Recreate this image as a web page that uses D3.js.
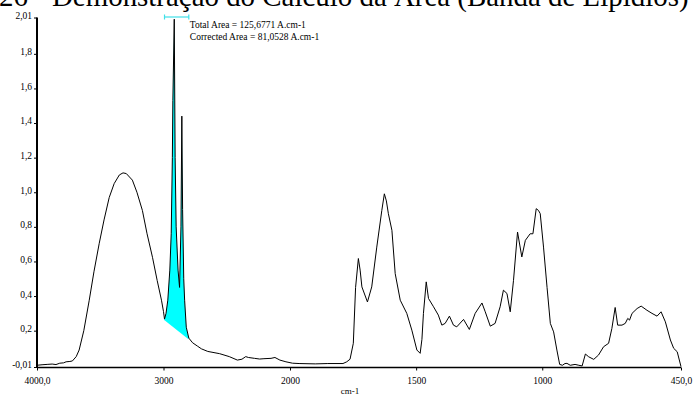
<!DOCTYPE html>
<html><head><meta charset="utf-8">
<script src="https://cdn.jsdelivr.net/npm/d3@7"></script>
<style>
html,body{margin:0;padding:0;background:#fff;overflow:hidden;}
svg{display:block;}
</style></head>
<body>
<svg id="chart" width="693" height="396"></svg>
<script>
// ---- data ----
const titleText = "26 - Demonstração do Cálculo da Área (Banda de Lipídios)";
const xLabel = "cm-1";
const annotations = ["Total Area = 125,6771 A.cm-1", "Corrected Area = 81,0528 A.cm-1"];
const integrationLimits = [2992, 2800];
const xTickValues = [4000, 3000, 2000, 1500, 1000, 450];
const xTickLabels = ["4000,0", "3000", "2000", "1500", "1000", "450,0"];
const yTickValues = [-0.01, 0.2, 0.4, 0.6, 0.8, 1.0, 1.2, 1.4, 1.6, 1.8, 2.01];
const yTickLabels = ["-0,01", "0,2", "0,4", "0,6", "0,8", "1,0", "1,2", "1,4", "1,6", "1,8", "2,01"];
const wavenumbers = [4000,3960,3920,3880,3850,3820,3790,3770,3740,3720,3690,3667,3630,3587,3550,3508,3470,3429,3390,3349,3320,3294,3246,3210,3167,3130,3087,3050,3016,3000,2992,2980,2966,2950,2939,2930,2926,2915,2908,2900,2885,2873,2862,2855,2849,2840,2833,2820,2800,2770,2730,2700,2650,2556,2480,2416,2380,2350,2329,2280,2240,2206,2150,2119,2080,2032,1990,1964,1900,1850,1790,1775,1762,1749,1740,1729,1722,1715,1693,1676,1656,1636,1626,1618,1610,1596,1583,1563,1537,1517,1497,1484,1477,1471,1460,1451,1431,1412,1398,1385,1368,1352,1339,1312,1289,1266,1239,1226,1206,1187,1167,1154,1140,1127,1114,1098,1081,1067,1048,1037,1024,1015,1008,995,981,968,955,942,931,920,910,902,889,870,855,842,829,816,796,777,757,737,724,711,701,684,671,661,654,644,624,608,585,565,545,529,512,492,479,465,450];
const absorbance = [0.0,0.003,0.005,0.007,0.004,0.012,0.014,0.02,0.022,0.025,0.05,0.088,0.2,0.376,0.54,0.705,0.84,0.97,1.05,1.10,1.112,1.108,1.07,1.0,0.895,0.76,0.624,0.49,0.376,0.31,0.267,0.3,0.376,0.55,0.76,1.2,1.53,2.0,1.2,0.8,0.55,0.45,0.8,1.44,0.9,0.5,0.376,0.22,0.157,0.13,0.11,0.095,0.08,0.067,0.05,0.03,0.035,0.05,0.045,0.04,0.036,0.038,0.04,0.045,0.03,0.02,0.012,0.01,0.008,0.01,0.01,0.02,0.035,0.127,0.45,0.617,0.55,0.453,0.366,0.453,0.683,0.895,0.991,0.95,0.876,0.78,0.53,0.376,0.30,0.203,0.088,0.069,0.15,0.30,0.482,0.386,0.338,0.29,0.232,0.242,0.284,0.232,0.222,0.265,0.207,0.30,0.36,0.309,0.226,0.242,0.338,0.434,0.415,0.309,0.491,0.77,0.626,0.722,0.76,0.76,0.905,0.895,0.876,0.683,0.45,0.242,0.193,0.088,0.005,0.0,0.01,0.011,0.0,0.005,0.0,-0.004,0.065,0.049,0.034,0.059,0.107,0.127,0.213,0.334,0.232,0.232,0.242,0.271,0.261,0.30,0.328,0.342,0.318,0.30,0.284,0.309,0.251,0.146,0.098,0.078,-0.008];

// ---- chart ----
const svg = d3.select("#chart");
const x = d3.scaleLinear().domain([4000, 2000, 450]).range([37, 290, 681]);
const y = d3.scaleLinear().domain([-0.01, 2.01]).range([367, 17.5]);
const pts = wavenumbers.map((w, i) => ({w, a: absorbance[i]}));

// title (cut off at the top, as in the reference)
const title = svg.append("text")
  .attr("x", -1).attr("y", 6)
  .style("font-family", "'Liberation Serif','Times New Roman',serif")
  .style("font-size", "28px")
  .attr("fill", "#000")
  .text(titleText);
const tw = title.node().getComputedTextLength();
title.style("font-size", (28 * 690 / tw) + "px");

// integration fill
const [l0, l1] = integrationLimits;
const aAt = w => { const p = pts.find(d => d.w === w); return p.a; };
const b0 = aAt(l0), b1 = aAt(l1);
const base = w => b0 + (b1 - b0) * (l0 - w) / (l0 - l1);
const fillPts = pts.filter(d => d.w <= l0 && d.w >= l1);
svg.append("path")
  .datum(fillPts)
  .attr("fill", "#00ffff")
  .attr("d", d3.area().x(d => x(d.w)).y0(d => y(base(d.w))).y1(d => y(d.a)));
svg.append("line")
  .attr("x1", x(l0)).attr("x2", x(l1)).attr("y1", y(b0)).attr("y2", y(b1))
  .attr("stroke", "#00ffff").attr("stroke-width", 2);

// spectrum line
svg.append("path")
  .datum(pts)
  .attr("fill", "none").attr("stroke", "#000").attr("stroke-width", 1)
  .attr("d", d3.line().x(d => x(d.w)).y(d => y(d.a)));

// integration bracket at top
const by = y(2.01) - 0.5;
const br = svg.append("g").attr("stroke", "#40e0e8").attr("stroke-width", 1.2);
br.append("line").attr("x1", x(l0)).attr("x2", x(l1)).attr("y1", by).attr("y2", by);
br.append("line").attr("x1", x(l0)).attr("x2", x(l0)).attr("y1", by - 2.5).attr("y2", by + 2.5);
br.append("line").attr("x1", x(l1)).attr("x2", x(l1)).attr("y1", by - 2.5).attr("y2", by + 2.5);

// annotations
svg.append("g").selectAll("text").data(annotations).join("text")
  .attr("x", x(l1) + 1).attr("y", (d, i) => 28 + i * 12)
  .style("font-family", "'Liberation Serif','Times New Roman',serif")
  .style("font-size", "9.5px")
  .text(d => d);

// axes
const fontStyle = g => g.selectAll("text")
  .style("font-family", "'Liberation Serif','Times New Roman',serif")
  .style("font-size", "9.5px").attr("fill", "#000");

const xAxis = svg.append("g").attr("transform", "translate(0,367.5)")
  .call(d3.axisBottom(x).tickValues(xTickValues).tickSize(3).tickPadding(7)
    .tickFormat((d, i) => xTickLabels[i]));
xAxis.select(".domain").attr("stroke", "#000").attr("stroke-width", 1.3)
  .attr("d", `M${x(4000)},0H${x(450)}`);
xAxis.call(fontStyle);

const yAxis = svg.append("g").attr("transform", "translate(37,0)")
  .call(d3.axisLeft(y).tickValues(yTickValues).tickSize(3).tickPadding(2)
    .tickFormat((d, i) => yTickLabels[i]));
yAxis.select(".domain").attr("stroke", "#000").attr("stroke-width", 2)
  .attr("d", `M0,${y(2.01)}V${y(-0.01)}`);
yAxis.call(fontStyle);
yAxis.selectAll("text").attr("dy", "0.1em");

svg.append("text")
  .attr("x", 350).attr("y", 394)
  .attr("text-anchor", "middle")
  .style("font-family", "'Liberation Serif','Times New Roman',serif")
  .style("font-size", "9px")
  .text(xLabel);
</script>
</body></html>
